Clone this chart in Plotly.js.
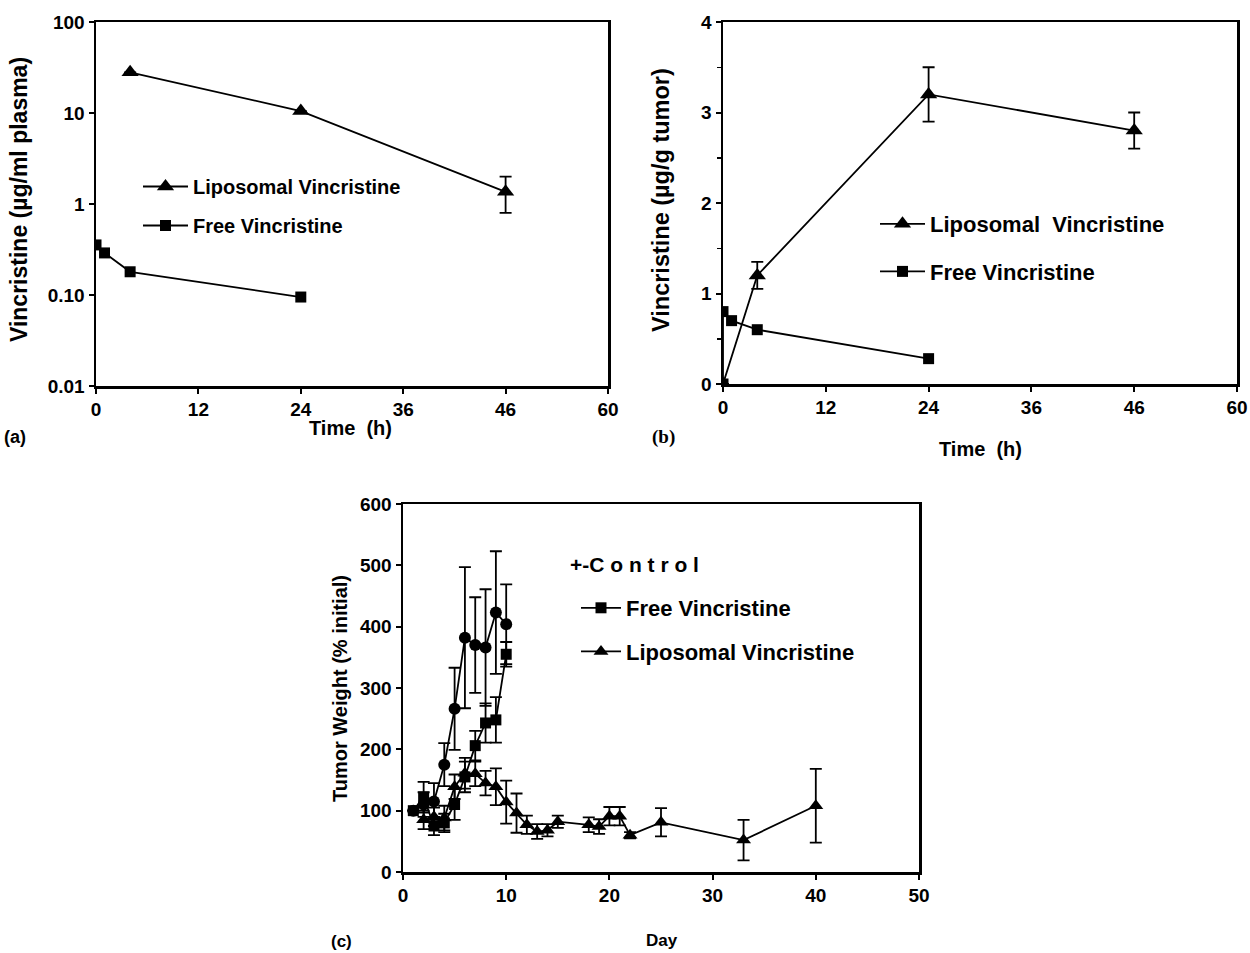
<!DOCTYPE html>
<html><head><meta charset="utf-8">
<script src="https://cdn.plot.ly/plotly-3.0.1.min.js"></script>
<style>html,body{margin:0;padding:0;background:#fff}#chart{width:1250px;height:953px}</style>
</head><body><div id="chart"></div>
<script>
// ---------- Panel (a): plasma ----------
const aXTickVals = [0, 12, 24, 36, 48, 60];
const aXTickText = ['0', '12', '24', '36', '46', '60'];
const aYTickVals = [0.01, 0.1, 1, 10, 100];
const aYTickText = ['0.01', '0.10', '1', '10', '100'];
const aLipoX = [4, 24, 48];
const aLipoY = [28, 10.5, 1.36];
const aLipoErrPlus = [0, 0, 0.64];
const aLipoErrMinus = [0, 0, 0.56];
const aFreeX = [0, 1, 4, 24];
const aFreeY = [0.355, 0.29, 0.18, 0.095];

// ---------- Panel (b): tumor ----------
const bXTickVals = [0, 12, 24, 36, 48, 60];
const bXTickText = ['0', '12', '24', '36', '46', '60'];
const bLipoX = [0, 4, 24, 48];
const bLipoY = [0, 1.2, 3.2, 2.8];
const bLipoErr = [0, 0.15, 0.3, 0.2];
const bFreeX = [0, 0, 1, 4, 24];
const bFreeY = [0, 0.8, 0.7, 0.6, 0.28];

// ---------- Panel (c): tumor weight ----------
const cCtrlX = [1, 2, 3, 4, 5, 6, 7, 8, 9, 10];
const cCtrlY = [100, 110, 115, 175, 266, 382, 370, 366, 423, 404];
const cCtrlErr = [0, 20, 30, 35, 67, 115, 78, 95, 100, 65];
const cFreeX = [1, 2, 3, 4, 5, 6, 7, 8, 9, 10];
const cFreeY = [100, 122, 75, 80, 110, 155, 206, 243, 248, 355];
const cFreeErr = [0, 25, 15, 15, 25, 25, 24, 32, 37, 20];
const cLipoX = [2, 3, 4, 5, 6, 7, 8, 9, 10, 11, 12, 13, 14, 15, 18, 19, 20, 21, 22, 25, 33, 40];
const cLipoY = [85, 90, 88, 139, 161, 160, 145, 139, 114, 96, 77, 66, 68, 82, 77, 74, 91, 91, 60, 81, 52, 108];
const cLipoErr = [15, 15, 20, 20, 25, 20, 20, 30, 35, 32, 15, 12, 10, 10, 12, 12, 15, 15, 5, 23, 33, 60];

const W = 1250, H = 953;
const px = v => v / W;
const py = v => 1 - v / H;
const FONT = 'Liberation Sans, Arial, sans-serif';
const bold = (size) => ({family: FONT, size: size, color: '#000', weight: 'bold'});

function errBar(arr, minus) {
  const e = {type: 'data', array: arr, visible: true, color: '#000', thickness: 1.8, width: 6};
  if (minus) { e.symmetric = false; e.arrayminus = minus; }
  return e;
}
const lineStyle = {color: '#000', width: 1.8};

const traces = [
  {x: aLipoX, y: aLipoY, xaxis: 'x', yaxis: 'y', mode: 'lines+markers', name: 'Liposomal Vincristine',
   legend: 'legend', legendgroup: 'a1', line: lineStyle,
   marker: {symbol: 'triangle-up', size: 15, color: '#000'}, error_y: errBar(aLipoErrPlus, aLipoErrMinus)},
  {x: aFreeX, y: aFreeY, xaxis: 'x', yaxis: 'y', mode: 'lines+markers', name: 'Free Vincristine',
   legend: 'legend', legendgroup: 'a2', line: lineStyle,
   marker: {symbol: 'square', size: 11, color: '#000'}},

  {x: bLipoX, y: bLipoY, xaxis: 'x2', yaxis: 'y2', mode: 'lines+markers', name: 'Liposomal&nbsp; Vincristine',
   legend: 'legend2', legendgroup: 'b1', line: lineStyle,
   marker: {symbol: 'triangle-up', size: 15, color: '#000'}, error_y: errBar(bLipoErr)},
  {x: bFreeX, y: bFreeY, xaxis: 'x2', yaxis: 'y2', mode: 'lines+markers', name: 'Free Vincristine',
   legend: 'legend2', legendgroup: 'b2', line: lineStyle,
   marker: {symbol: 'square', size: 11, color: '#000'}},

  {x: cCtrlX, y: cCtrlY, xaxis: 'x3', yaxis: 'y3', mode: 'lines+markers', name: 'Control',
   showlegend: false, line: lineStyle,
   marker: {symbol: 'circle', size: 12, color: '#000'}, error_y: errBar(cCtrlErr)},
  {x: cFreeX, y: cFreeY, xaxis: 'x3', yaxis: 'y3', mode: 'lines+markers', name: 'Free Vincristine',
   legend: 'legend3', legendgroup: 'c1', line: lineStyle,
   marker: {symbol: 'square', size: 11, color: '#000'}, error_y: errBar(cFreeErr)},
  {x: cLipoX, y: cLipoY, xaxis: 'x3', yaxis: 'y3', mode: 'lines+markers', name: 'Liposomal Vincristine',
   legend: 'legend3', legendgroup: 'c2', line: lineStyle,
   marker: {symbol: 'triangle-up', size: 13, color: '#000'}, error_y: errBar(cLipoErr)}
];

const axBase = {
  showgrid: false, zeroline: false, showline: true, linecolor: '#000', linewidth: 2.5, mirror: true,
  ticks: 'outside', ticklen: 5, tickwidth: 2, tickcolor: '#000', tickfont: bold(19),
  fixedrange: true, automargin: false
};

const legBase = {bgcolor: 'rgba(0,0,0,0)', borderwidth: 0, xanchor: 'left', yanchor: 'top',
  traceorder: 'grouped', itemclick: false, font: bold(22)};

function note(text, x, y, font, angle) {
  const a = {text: text, x: px(x), y: py(y), xref: 'paper', yref: 'paper', showarrow: false,
    font: font, xanchor: 'center', yanchor: 'middle'};
  if (angle) a.textangle = angle;
  return a;
}

const layout = {
  width: W, height: H, showlegend: true,
  margin: {l: 0, r: 0, t: 0, b: 0},
  paper_bgcolor: '#fff', plot_bgcolor: '#fff',
  font: bold(19),
  xaxis: Object.assign({}, axBase, {domain: [px(96), px(608)], range: [0, 60], anchor: 'y',
    tickmode: 'array', tickvals: aXTickVals, ticktext: aXTickText}),
  yaxis: Object.assign({}, axBase, {domain: [py(386), py(22)], type: 'log', range: [-2, 2], anchor: 'x',
    tickmode: 'array', tickvals: aYTickVals, ticktext: aYTickText}),
  xaxis2: Object.assign({}, axBase, {domain: [px(723), px(1237)], range: [0, 60], anchor: 'y2',
    tickmode: 'array', tickvals: bXTickVals, ticktext: bXTickText}),
  yaxis2: Object.assign({}, axBase, {domain: [py(384), py(22)], range: [0, 4], anchor: 'x2', dtick: 1,
    minor: {dtick: 0.5, ticks: 'outside', ticklen: 4, tickwidth: 1.5, tickcolor: '#000'}}),
  xaxis3: Object.assign({}, axBase, {domain: [px(403), px(919)], range: [0, 50], anchor: 'y3', dtick: 10}),
  yaxis3: Object.assign({}, axBase, {domain: [py(872), py(504)], range: [0, 600], anchor: 'x3', dtick: 100}),
  legend: Object.assign({}, legBase, {x: px(138), y: py(167), itemwidth: 45, tracegroupgap: 10, font: bold(20)}),
  legend2: Object.assign({}, legBase, {x: px(875), y: py(203), itemwidth: 45, tracegroupgap: 16}),
  legend3: Object.assign({}, legBase, {x: px(576), y: py(587), itemwidth: 40, tracegroupgap: 12}),
  annotations: [
    note('Vincristine (µg/ml plasma)', 19, 200, bold(23), -90),
    note('Time&nbsp; (h)', 350, 428, bold(20)),
    note('(a)', 15, 437, bold(18)),
    note('Vincristine (µg/g tumor)', 661, 200, bold(23.5), -90),
    note('Time&nbsp; (h)', 980, 449, bold(20)),
    note('(b)', 663, 437, {family: 'Liberation Serif, Times New Roman, serif', size: 19, color: '#000'}),
    note('Tumor Weight (% initial)', 340, 689, bold(20), -90),
    note('Day', 662, 940, bold(17)),
    note('(c)', 341, 941, bold(17)),
    Object.assign(note('+-C o n t r o l', 568, 564, bold(21)), {xanchor: 'left'})
  ]
};

Plotly.newPlot('chart', traces, layout, {staticPlot: true, displayModeBar: false});
</script>
</body></html>
